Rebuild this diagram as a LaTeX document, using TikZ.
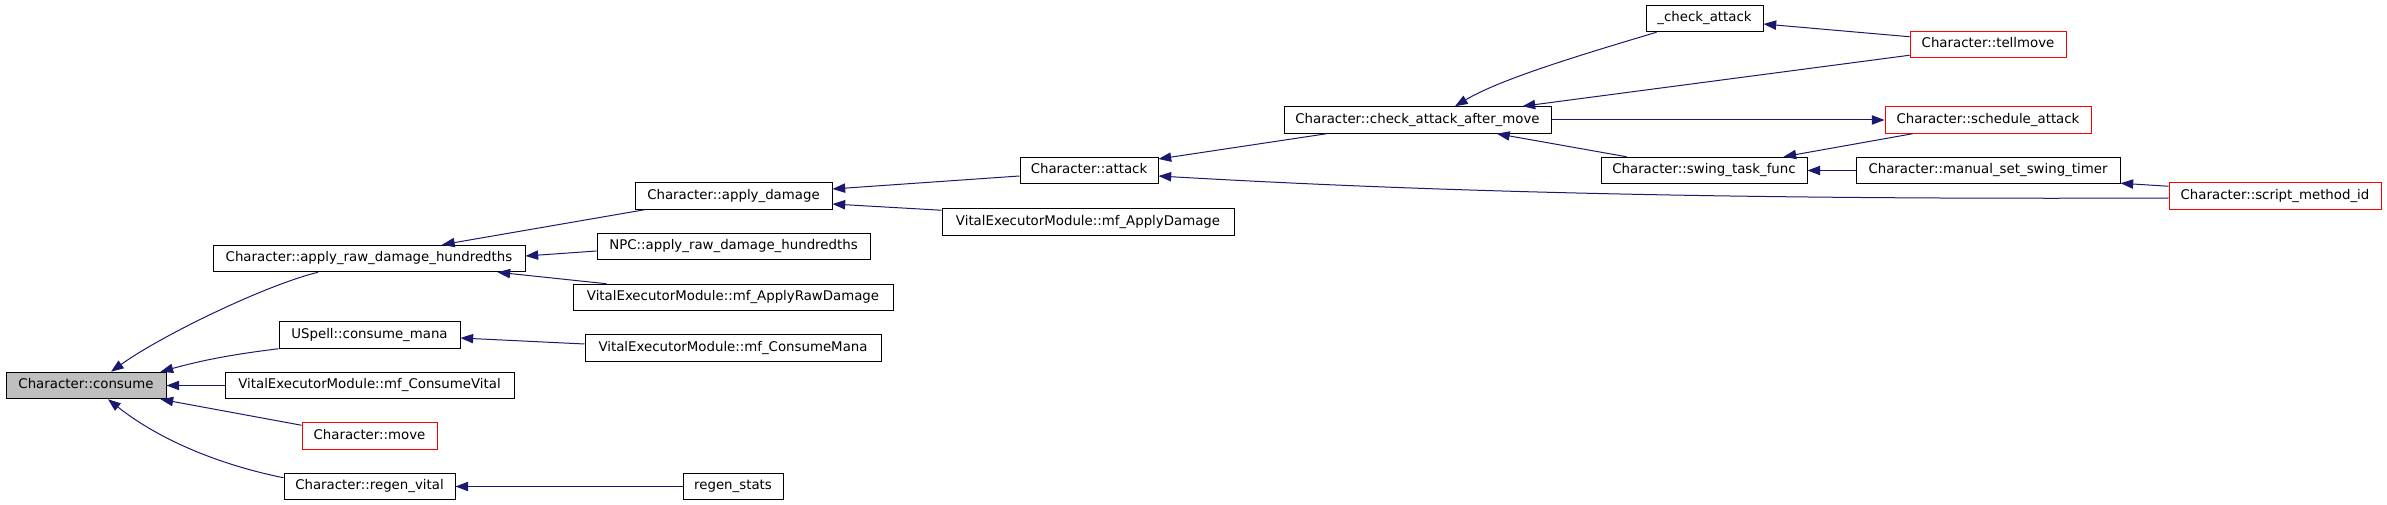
\documentclass[tikz,border=0pt]{standalone}
\usepackage{fontspec}
\setmainfont{DejaVu Sans}
\usetikzlibrary{arrows.meta,calc}
\definecolor{callblue}{HTML}{191970}
\definecolor{boxred}{HTML}{FF0000}
\definecolor{focusgray}{HTML}{BFBFBF}

\begin{document}
\begin{tikzpicture}[x=0.75pt,y=-0.75pt,
    fn/.style={draw,line width=0.75pt,minimum height=19.875pt,inner sep=0pt,
        font=\fontsize{10}{12}\selectfont,text height=7.3pt,text depth=2.2pt},
    bw/.style={minimum width=#1*0.75pt},
    red fn/.style={fn,draw=boxred},
    call/.style={draw=callblue,line width=0.75pt,-{Triangle[length=9.5pt,width=7pt]}}]

            \useasboundingbox (0,0) rectangle (2387,505);

            \node[fn,bw=160,fill=focusgray] (consume) at (86,385.5) {Character::consume};

            \node[fn,bw=312] (applyraw) at (369,258.5) {Character::apply\_raw\_damage\_hundredths};
            \node[fn,bw=181] (usmana) at (369.5,335) {USpell::consume\_mana};
            \node[fn,bw=289] (consvital) at (369.5,385.5) {VitalExecutorModule::mf\_ConsumeVital};
            \node[red fn,bw=135] (move) at (369.5,436) {Character::move};
            \node[fn,bw=171] (regenvital) at (369.5,486.5) {Character::regen\_vital};

            \node[fn,bw=197] (applydmg) at (733.5,196) {Character::apply\_damage};
            \node[fn,bw=273] (npcraw) at (733.5,246.5) {NPC::apply\_raw\_damage\_hundredths};
            \node[fn,bw=320] (mfrawdmg) at (733,297.5) {VitalExecutorModule::mf\_ApplyRawDamage};
            \node[fn,bw=296] (mfmana) at (733,348) {VitalExecutorModule::mf\_ConsumeMana};
            \node[fn,bw=100] (regenstats) at (733,486.5) {regen\_stats};

            \node[fn,bw=138] (attack) at (1089,170.5) {Character::attack};
            \node[fn,bw=292] (mfdmg) at (1088,222) {VitalExecutorModule::mf\_ApplyDamage};

            \node[fn,bw=267] (checkafter) at (1417.5,120) {Character::check\_attack\_after\_move};

            \node[fn,bw=117] (checkatk) at (1704.5,18.5) {\_check\_attack};
            \node[fn,bw=206] (swing) at (1704,170.5) {Character::swing\_task\_func};

            \node[red fn,bw=156] (tellmove) at (1988,44.5) {Character::tellmove};
            \node[red fn,bw=206] (schedatk) at (1988,120) {Character::schedule\_attack};
            \node[fn,bw=264] (manualswing) at (1988,170.5) {Character::manual\_set\_swing\_timer};

            \node[red fn,bw=212] (scriptid) at (2275,196) {Character::script\_method\_id};

            % callers of consume
            \draw[call] ($(applyraw.south)+(-51,0)$) .. controls +(-53,13) and +(50,-36) .. ($(consume.north)+(25,0)$);
            \draw[call] (usmana.south west) .. controls +(-49,6) and +(40,-11) .. ($(consume.north east)+(-6,0)$);
            \draw[call] (consvital.west) -- (consume.east);
            \draw[call] ($(move.north west)+(0,3)$) -- ($(consume.south east)+(-6,0)$);
            \draw[call] ($(regenvital.north west)+(0,5)$) .. controls +(-64,-13) and +(52,41) .. ($(consume.south)+(22,0)$);

            \draw[call] ($(applydmg.south west)+(10,0)$) -- ($(applyraw.north)+(73,0)$);
            \draw[call] ($(npcraw.west)+(0,4.5)$) -- ($(applyraw.east)+(0,-2.5)$);
            \draw[call] ($(mfrawdmg.north west)+(34,0)$) -- ($(applyraw.south east)+(-28,0)$);
            \draw[call] ($(mfmana.west)+(0,-4)$) -- ($(usmana.east)+(0,3)$);
            \draw[call] (regenstats.west) -- (regenvital.east);

            \draw[call] ($(attack.west)+(0,5.5)$) -- ($(applydmg.east)+(0,-7)$);
            \draw[call] ($(mfdmg.north west)+(0,2)$) -- ($(applydmg.east)+(0,8)$);

            \draw[call] ($(checkafter.south west)+(43,0)$) -- ($(attack.east)+(0,-11.5)$);
            \draw[call] ($(scriptid.west)+(0,2)$) .. controls +(-469,2) and +(242,14) .. ($(attack.east)+(0,5.5)$);

            \draw[call] ($(checkatk.south west)+(11,0)$) .. controls +(-77,23) and +(45,-27) .. ($(checkafter.north)+(37.5,0)$);
            \draw[call] ($(tellmove.south west)+(0,-3)$) -- ($(checkafter.north east)+(-29,0)$);
            \draw[call] (checkafter.east) -- (schedatk.west);
            \draw[call] ($(swing.north west)+(26,0)$) -- ($(checkafter.south)+(79.5,0)$);

            \draw[call] ($(tellmove.north west)+(0,6)$) -- ($(checkatk.east)+(0,5.5)$);
            \draw[call] ($(schedatk.south west)+(28,0)$) -- ($(swing.north east)+(-24,0)$);
            \draw[call] (manualswing.west) -- (swing.east);
            \draw[call] ($(scriptid.north west)+(0,4)$) -- ($(manualswing.south east)+(0,-1)$);

\end{tikzpicture}
\end{document}
